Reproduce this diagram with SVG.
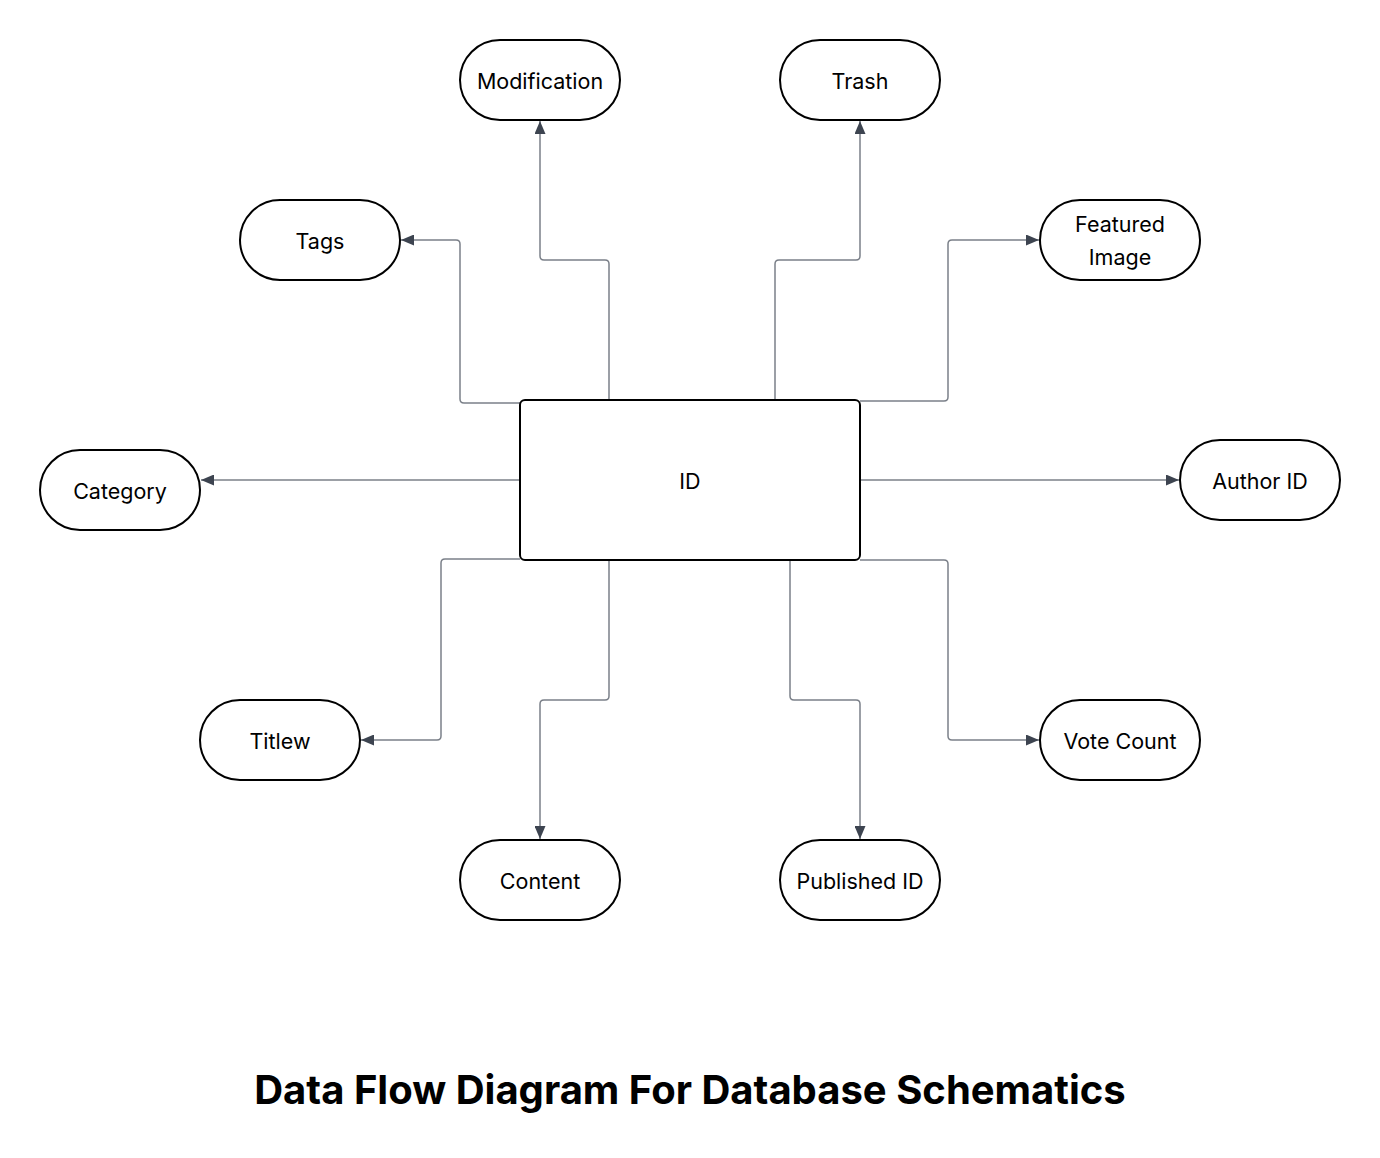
<svg xmlns="http://www.w3.org/2000/svg" width="1380" height="1158" viewBox="0 0 1380 1158">
<style>
.node{fill:#fff;stroke:#000;stroke-width:2}
.lbl{font-family:Inter,"Noto Sans","Liberation Sans",sans-serif;font-size:21.5px;fill:#000;text-anchor:middle;dominant-baseline:central}
.conn{fill:none;stroke:#7b8089;stroke-width:1.5;marker-end:url(#arr)}
.title{font-family:Inter,"Liberation Sans",sans-serif;font-size:40px;font-weight:700;fill:#000;text-anchor:middle}
</style>
<defs>
<marker id="arr" viewBox="0 0 13 11" refX="13" refY="5.5" markerWidth="13" markerHeight="11" markerUnits="userSpaceOnUse" orient="auto">
<path d="M0,0 L13,5.5 L0,11 Z" fill="#3d4450"/>
</marker>
</defs>
<rect width="1380" height="1158" fill="#fff"/>
<g id="connectors">
<path class="conn" d="M520,403 H464 Q460,403 460,399 V244 Q460,240 456,240 H401"/>
<path class="conn" d="M609,400 V264 Q609,260 605,260 H544 Q540,260 540,256 V121"/>
<path class="conn" d="M775,400 V264 Q775,260 779,260 H856 Q860,260 860,256 V121"/>
<path class="conn" d="M860,401 H944 Q948,401 948,397 V244 Q948,240 952,240 H1039"/>
<path class="conn" d="M520,480 H201"/>
<path class="conn" d="M860,480 H1179"/>
<path class="conn" d="M520,559 H445 Q441,559 441,563 V736 Q441,740 437,740 H361"/>
<path class="conn" d="M609,560 V696 Q609,700 605,700 H544 Q540,700 540,704 V839"/>
<path class="conn" d="M790,560 V696 Q790,700 794,700 H856 Q860,700 860,704 V839"/>
<path class="conn" d="M860,560 H944 Q948,560 948,564 V736 Q948,740 952,740 H1039"/>
</g>
<g id="n-id"><rect class="node" x="520" y="400" width="340" height="160" rx="5"/><text class="lbl" x="690" y="481">ID</text></g>
<g id="n-modification"><rect class="node" x="460" y="40" width="160" height="80" rx="40"/><text class="lbl" x="540" y="81">Modification</text></g>
<g id="n-trash"><rect class="node" x="780" y="40" width="160" height="80" rx="40"/><text class="lbl" x="860" y="81">Trash</text></g>
<g id="n-tags"><rect class="node" x="240" y="200" width="160" height="80" rx="40"/><text class="lbl" x="320" y="241">Tags</text></g>
<g id="n-featured"><rect class="node" x="1040" y="200" width="160" height="80" rx="40"/><text class="lbl" x="1120" y="224">Featured</text><text class="lbl" x="1120" y="257">Image</text></g>
<g id="n-category"><rect class="node" x="40" y="450" width="160" height="80" rx="40"/><text class="lbl" x="120" y="491">Category</text></g>
<g id="n-author"><rect class="node" x="1180" y="440" width="160" height="80" rx="40"/><text class="lbl" x="1260" y="481">Author ID</text></g>
<g id="n-titlew"><rect class="node" x="200" y="700" width="160" height="80" rx="40"/><text class="lbl" x="280" y="741">Titlew</text></g>
<g id="n-vote"><rect class="node" x="1040" y="700" width="160" height="80" rx="40"/><text class="lbl" x="1120" y="741">Vote Count</text></g>
<g id="n-content"><rect class="node" x="460" y="840" width="160" height="80" rx="40"/><text class="lbl" x="540" y="881">Content</text></g>
<g id="n-published"><rect class="node" x="780" y="840" width="160" height="80" rx="40"/><text class="lbl" x="860" y="881">Published ID</text></g>
<text class="title" x="690" y="1104">Data Flow Diagram For Database Schematics</text>
</svg>
